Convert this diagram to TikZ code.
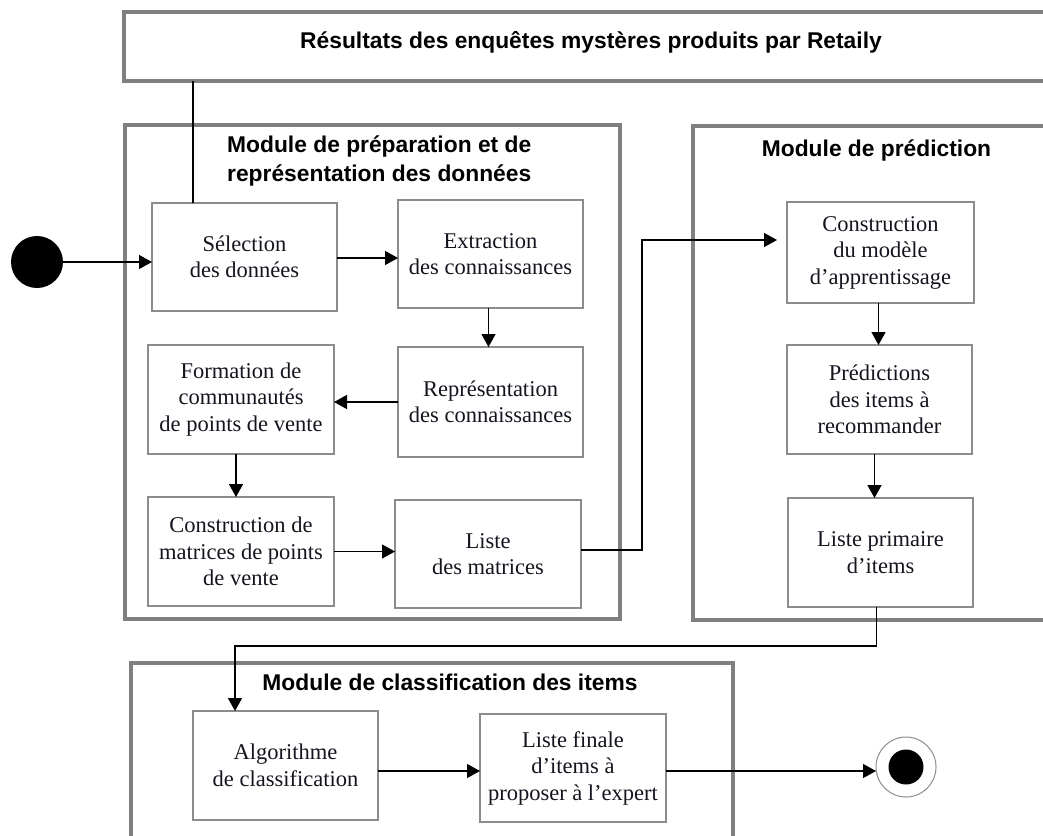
\documentclass[tikz,border=0pt]{standalone}
\usepackage{fontspec}
\setmainfont{Liberation Serif}
\newfontfamily\titlefont{Liberation Sans}
\usetikzlibrary{arrows.meta}
\definecolor{modgray}{HTML}{808080}
\definecolor{boxgray}{HTML}{8C8C8C}
\definecolor{txt}{HTML}{14141E}
\begin{document}
\begin{tikzpicture}[x=1pt,y=-1pt,
  stepbox/.style={draw=boxgray, line width=1.4pt, minimum width=185pt, minimum height=108pt,
    inner sep=0pt, outer sep=0pt, align=center, text=txt,
    font=\fontsize{22.5}{26.5}\selectfont},
  module/.style={draw=modgray, line width=4.8pt, inner sep=0pt, outer sep=0pt, anchor=north west},
  title/.style={font=\titlefont\bfseries\fontsize{22.8}{29}\selectfont, inner sep=0pt, text=black},
  arr/.style={line width=1.3pt, -{Triangle[length=13pt,width=14pt]}},
  link/.style={line width=1.3pt}]
\useasboundingbox (0,0) rectangle (1043,835);
\clip (0,0) rectangle (1043,835);
% modules
\node[module, minimum width=936pt, minimum height=69pt] (top) at (124,12) {};
\node[module, minimum width=495pt, minimum height=494pt] (prep) at (125,125) {};
\node[module, minimum width=370pt, minimum height=494pt] (predm) at (693,126) {};
\node[module, minimum width=602pt, minimum height=200pt] (clas) at (131,663) {};
% titles
\node[title, anchor=base] (toptitle) at (591,48) {Résultats des enquêtes mystères produits par Retaily};
\node[title, anchor=north west, align=left] (preptitle) at (227,136) {Module de préparation et de\\représentation des données};
\node[title, anchor=base] (predtitle) at (876.5,156) {Module de prédiction};
\node[title, anchor=base] (clastitle) at (450,690) {Module de classification des items};
% steps
\node[stepbox] (sel) at (244.5,257) {Sélection\\des données};
\node[stepbox] (ext) at (490.5,254) {Extraction\\des connaissances};
\node[stepbox, minimum height=110pt] (rep) at (490.5,402) {Représentation\\des connaissances};
\node[stepbox, minimum width=186pt, minimum height=109pt] (form) at (241,399.5) {Formation de\\communautés\\de points de vente};
\node[stepbox, minimum width=186pt, minimum height=109pt] (cmat) at (241,551.5) {Construction de\\matrices de points\\de vente};
\node[stepbox, minimum width=186pt] (lmat) at (488,554) {Liste\\des matrices};
\node[stepbox, minimum width=187pt, minimum height=101pt] (cmod) at (880.5,252.5) {Construction\\du modèle\\d’apprentissage};
\node[stepbox, minimum height=109pt] (pred) at (879.5,399.5) {Prédictions\\des items à\\recommander};
\node[stepbox, minimum height=109pt] (lprim) at (880.5,552.5) {Liste primaire\\d’items};
\node[stepbox, minimum height=109pt] (algo) at (285.5,765.5) {Algorithme\\de classification};
\node[stepbox, minimum width=186pt] (lfin) at (573,768) {Liste finale\\d’items à\\proposer à l’expert};
% start / end
\node[circle, fill=black, minimum size=52pt, inner sep=0pt, outer sep=0pt] (start) at (37,262) {};
\node[circle, draw=boxgray, line width=1pt, minimum size=60pt, inner sep=0pt, outer sep=0pt] (endc) at (906,767) {};
\node[circle, fill=black, minimum size=35pt, inner sep=0pt] (endin) at (endc.center) {};
% connectors
\draw[arr] (start.east) -- (start.east -| sel.west);
\draw[link] ([xshift=-51.5pt]sel.north) -- ([xshift=-51.5pt]sel.north |- top.south);
\draw[arr] ([yshift=-1pt]sel.east) -- ([yshift=-1pt]sel.east -| ext.west);
\draw[arr] ([xshift=-2pt]ext.south) -- ([xshift=-2pt]ext.south |- rep.north);
\draw[arr] (rep.west) -- (rep.west -| form.east);
\draw[arr] ([xshift=-5pt]form.south) -- ([xshift=-5pt]form.south |- cmat.north);
\draw[arr] (cmat.east) -- (cmat.east -| lmat.west);
\coordinate (b1) at (642,240);
\draw[arr, shorten >=10pt] ([yshift=4pt]lmat.east) -| (b1) -- (b1 -| cmod.west);
\draw[arr] ([xshift=-2pt]cmod.south) -- ([xshift=-2pt]cmod.south |- pred.north);
\draw[arr] ([xshift=-5pt]pred.south) -- ([xshift=-5pt]pred.south |- lprim.north);
\coordinate (b2) at (235,646);
\draw[arr] ([xshift=-4pt]lprim.south) |- (b2) -- (b2 |- algo.north);
\draw[arr] ([yshift=-5.5pt]algo.east) -- ([yshift=-5.5pt]algo.east -| lfin.west);
\draw[arr] ([yshift=-3pt]lfin.east) -- ([yshift=-3pt]lfin.east -| endc.west);
\end{tikzpicture}
\end{document}
